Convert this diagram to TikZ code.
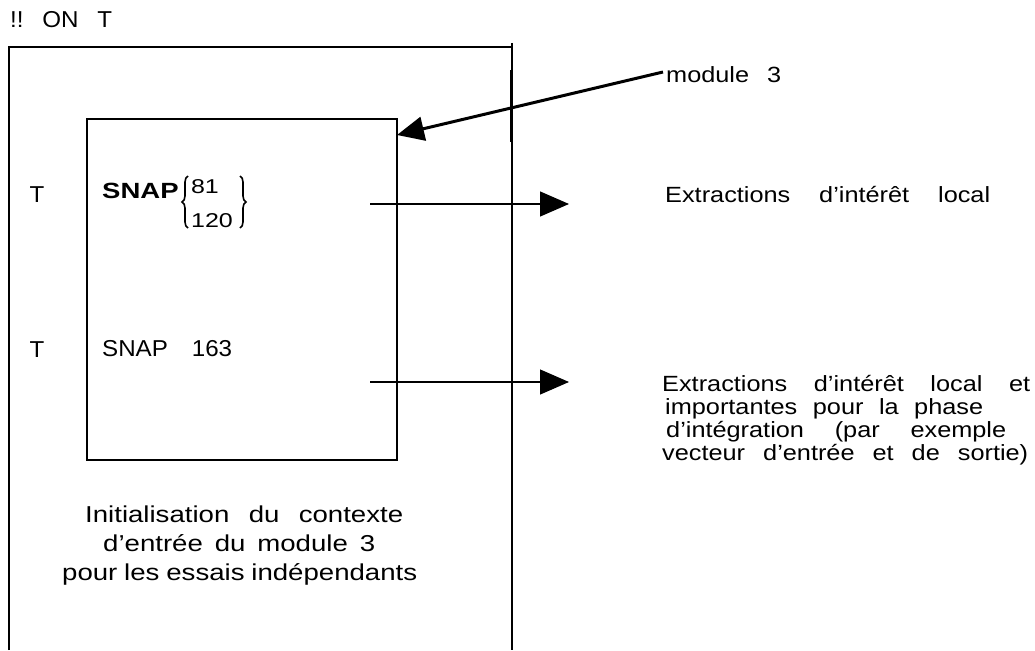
\documentclass[tikz,border=0pt]{standalone}
\usepackage{graphicx}
\usepackage{fontspec}
\setmainfont{Liberation Sans}
\usetikzlibrary{arrows.meta,decorations.pathreplacing}
% a line of text widened by a horizontal factor and spread to a given width
\newcommand{\wline}[3]{\pgfmathsetlengthmacro{\wlinew}{#2/#1}%
  \scalebox{#1}[1]{\makebox[\wlinew][s]{#3}}}
\frenchspacing
\begin{document}
\begin{tikzpicture}[x=1pt,y=-1pt,
  lab/.style={inner sep=0pt, anchor=base, font=\fontsize{23}{27}\selectfont},
  note/.style={inner sep=0pt, anchor=base west, font=\fontsize{22}{23}\selectfont},
  capt/.style={inner sep=0pt, anchor=base west, font=\fontsize{23}{29}\selectfont},
  frame/.style={line width=1.3pt},
  flow/.style={line width=1.2pt, -{Triangle[length=29pt,width=25pt]}},
  feed/.style={line width=3pt, -{Triangle[length=27pt,width=24pt]}},
  tick/.style={line width=3pt},
  curly/.style={line width=1.6pt, decorate, decoration={brace, amplitude=6pt}}]
\useasboundingbox (0,0) rectangle (1035,650);

% outer frame, open at the bottom
\coordinate (oBL) at (9,650);
\coordinate (oTL) at (9,47);
\coordinate (oTR) at (512,47);
\coordinate (oTop) at (512,43);
\coordinate (oBR) at (512,650);
\draw[frame] (oBL) -- (oTL) -- (oTR);
\draw[frame] (oTop) -- (oBR);

% inner box
\node[draw, frame, minimum width=310pt, minimum height=341pt, inner sep=0pt]
  (inner) at (242,289.5) {};

% header and side marks
\node[lab, anchor=base west] (hdr) at (10,28) {\wline{1.05}{102pt}{!! ON T}};
\node[lab] (t1) at (37,202) {\scalebox{1.05}[1]{T}};
\node[lab] (t2) at (37,357) {\scalebox{1.05}[1]{T}};

% SNAP with its two values in braces
\node[inner sep=0pt, anchor=base west, font=\bfseries\fontsize{22}{24}\selectfont]
  (snapA) at (102,198) {\scalebox{1.25}[1]{SNAP}};
\node[inner sep=0pt, anchor=base, font=\fontsize{20}{23}\selectfont]
  (v81) at (205,193) {\scalebox{1.25}[1]{81}};
\node[inner sep=0pt, anchor=base, font=\fontsize{20}{23}\selectfont]
  (v120) at (212,227) {\scalebox{1.25}[1]{120}};
\coordinate (lbT) at (188,176);
\coordinate (lbB) at (188,228);
\coordinate (rbT) at (240,176);
\coordinate (rbB) at (240,228);
\draw[curly] (lbB) -- (lbT);
\draw[curly] (rbT) -- (rbB);

\node[lab, anchor=base west] (snap2) at (102,356) {\wline{1.05}{130pt}{SNAP 163}};

% right-hand notes
\node[note] (mod) at (666,83) {\wline{1.15}{115pt}{module 3}};
\node[note] (ext1) at (665,202) {\wline{1.15}{325pt}{Extractions d’intérêt local}};
\node[note] (ext2a) at (662,391) {\wline{1.15}{368pt}{Extractions d’intérêt local et}};
\node[note] (ext2b) at (665,414) {\wline{1.15}{318pt}{importantes pour la phase}};
\node[note] (ext2c) at (666,437) {\wline{1.15}{340pt}{d’intégration (par exemple}};
\node[note] (ext2d) at (662,460) {\wline{1.15}{366pt}{vecteur d’entrée et de sortie)}};

% caption under the inner box
\node[capt] (initA) at (85,522) {\wline{1.2}{318pt}{Initialisation du contexte}};
\node[capt] (initB) at (103,551) {\wline{1.2}{272pt}{d’entrée du module 3}};
\node[capt] (initC) at (62,580) {\wline{1.2}{355pt}{pour les essais indépendants}};

% connectors
\coordinate (a1s) at (370,204);
\coordinate (a1e) at (569,204);
\coordinate (a2s) at (370,382);
\coordinate (a2e) at (569,382);
\draw[flow] (a1s) -- (a1e);
\draw[flow] (a2s) -- (a2e);

\coordinate (modtail) at (663,72);
\coordinate (modtip) at (397,135);
\draw[feed] (modtail) -- (modtip);
\coordinate (tk1) at (511,70);
\coordinate (tk2) at (511,142);
\draw[tick] (tk1) -- (tk2);
\end{tikzpicture}
\end{document}
